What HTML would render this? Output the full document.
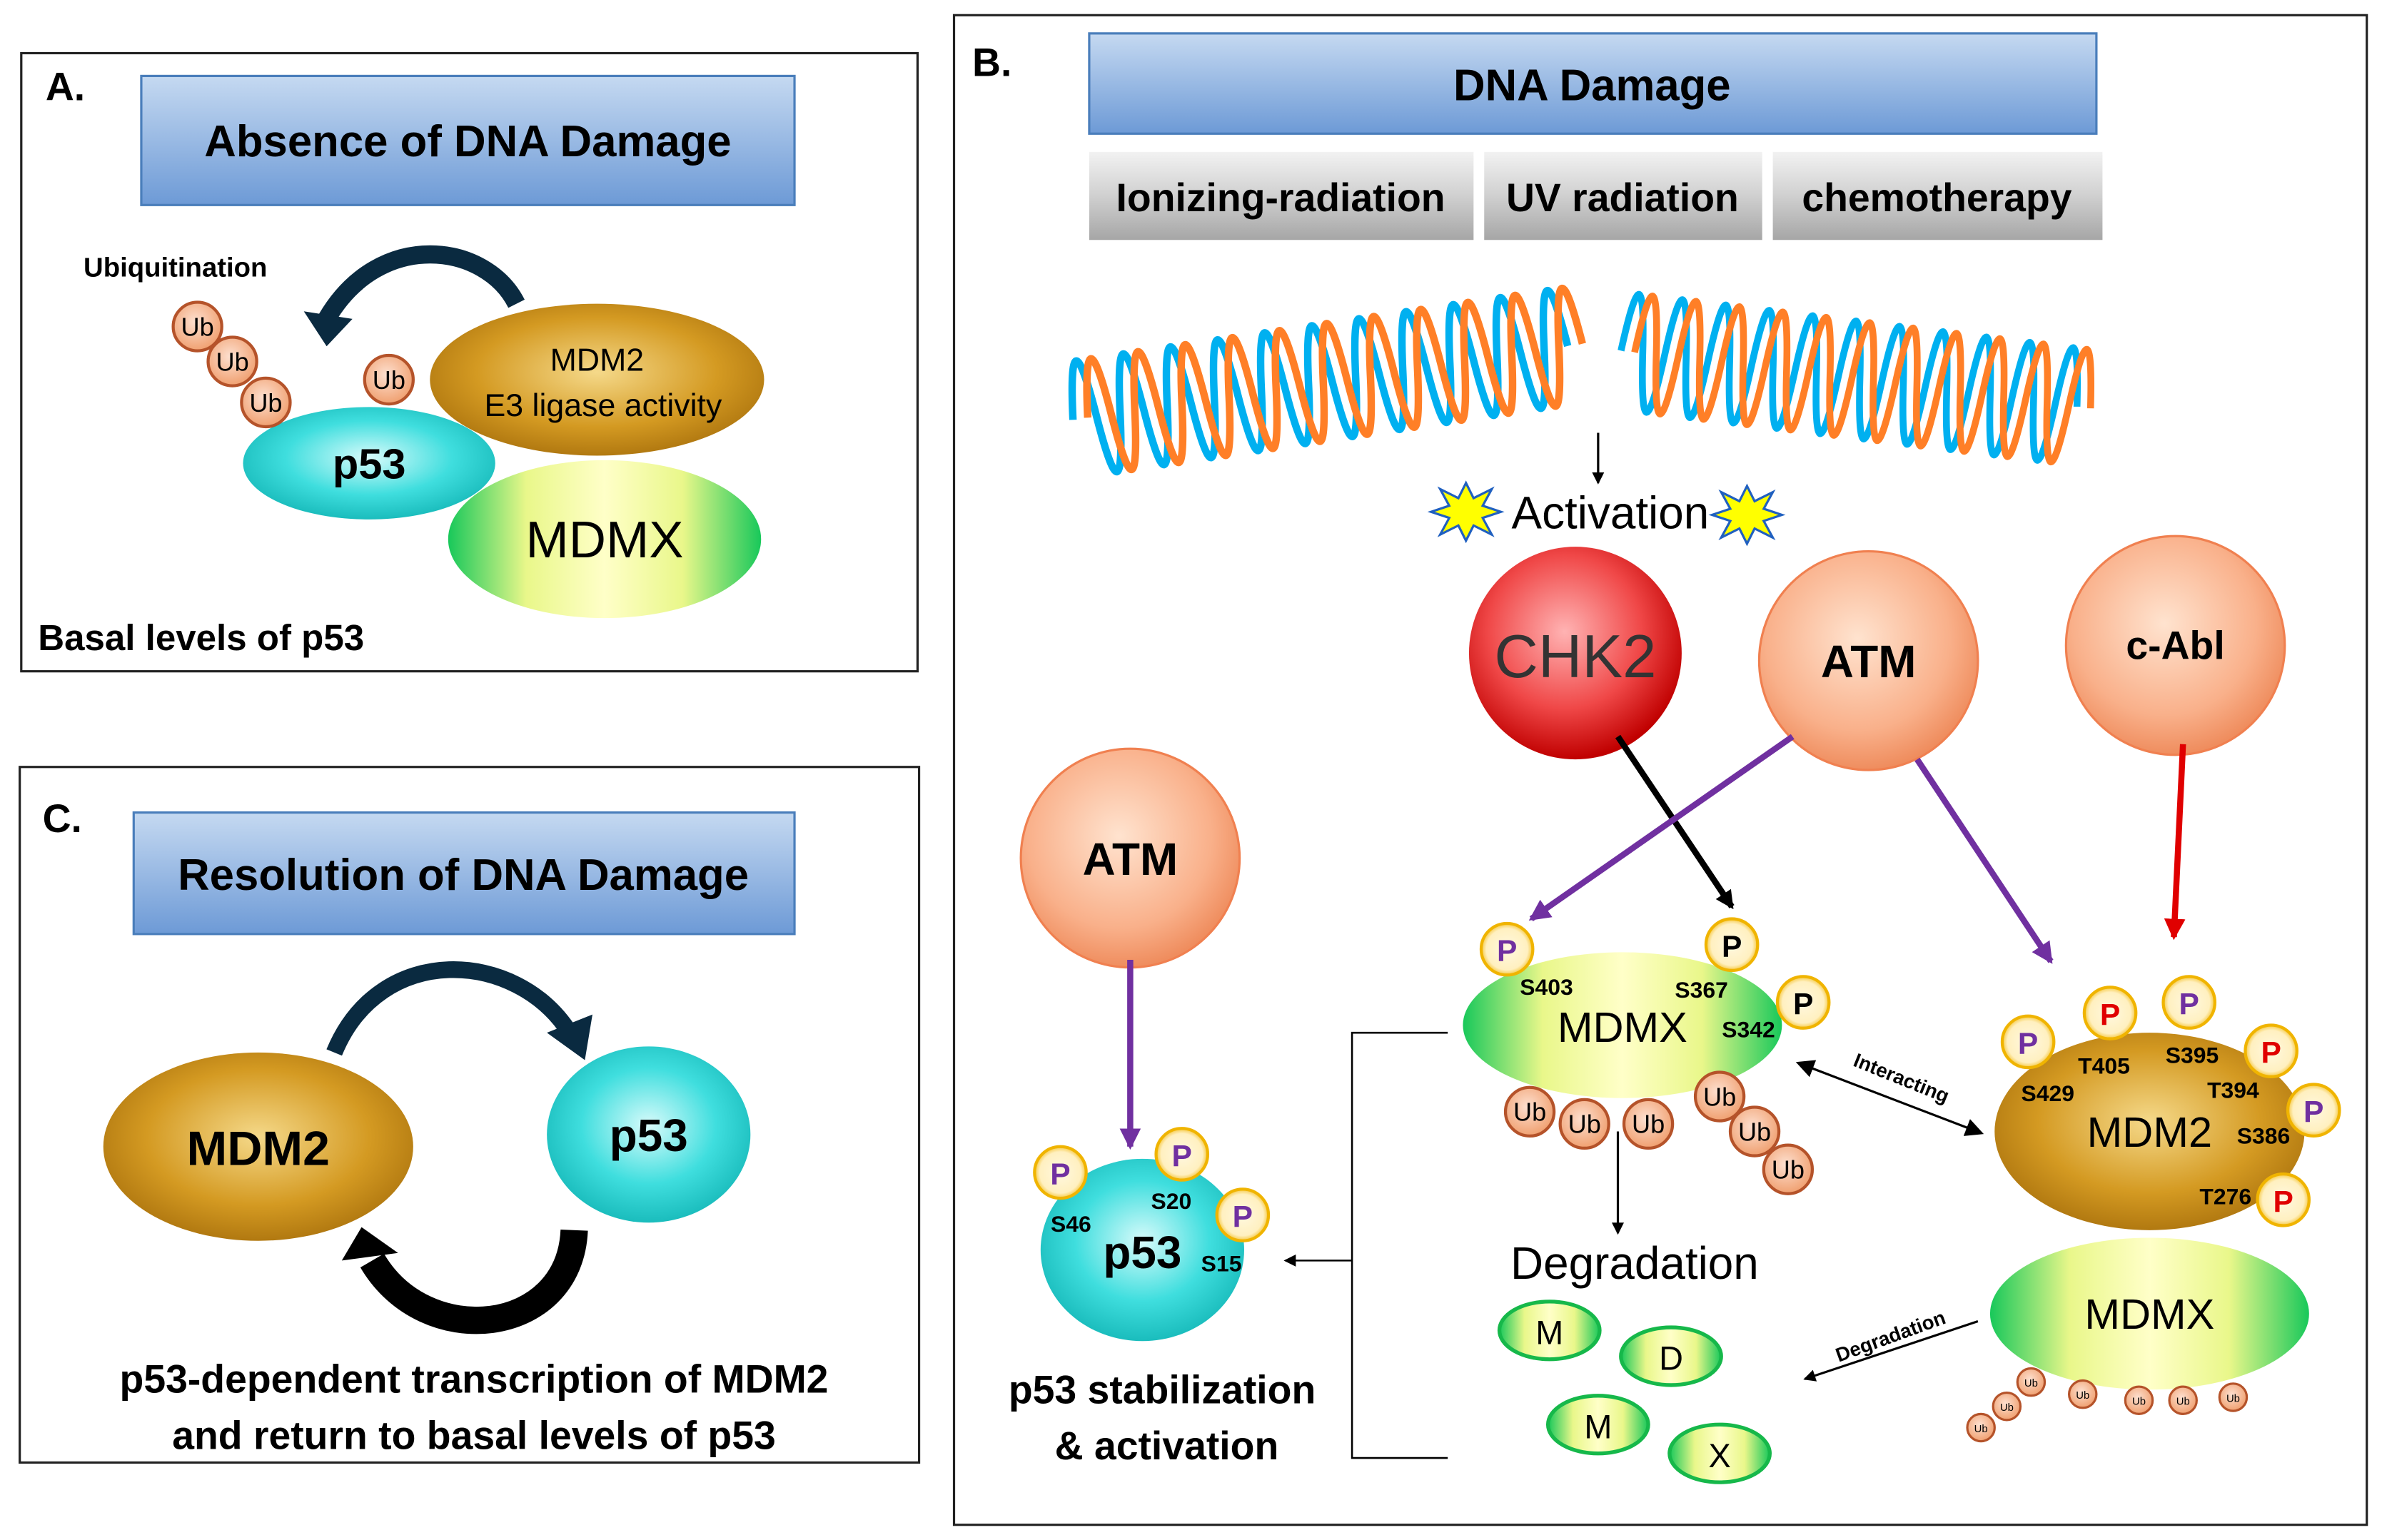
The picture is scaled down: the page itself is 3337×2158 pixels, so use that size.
<!DOCTYPE html>
<html><head><meta charset="utf-8"><style>
html,body{margin:0;padding:0;background:#fff}
svg{display:block}
text{font-family:"Liberation Sans",sans-serif}
</style></head><body>
<svg width="3337" height="2158" viewBox="0 0 1568 1014" xmlns="http://www.w3.org/2000/svg">
<defs>
<linearGradient id="blue" x1="0" y1="0" x2="0" y2="1"><stop offset="0" stop-color="#c5d9f1"/><stop offset="1" stop-color="#6d9ad6"/></linearGradient>
<linearGradient id="gray" x1="0" y1="0" x2="0" y2="1"><stop offset="0" stop-color="#f2f2f2"/><stop offset="0.5" stop-color="#d0d0d0"/><stop offset="1" stop-color="#a6a6a6"/></linearGradient>
<radialGradient id="gold" cx="0.5" cy="0.45" r="0.6"><stop offset="0" stop-color="#f5d98a"/><stop offset="0.6" stop-color="#d49a22"/><stop offset="1" stop-color="#a8700c"/></radialGradient>
<radialGradient id="cyan" cx="0.5" cy="0.45" r="0.6"><stop offset="0" stop-color="#d8fbfb"/><stop offset="0.55" stop-color="#3fdede"/><stop offset="1" stop-color="#12b5b5"/></radialGradient>
<linearGradient id="green" x1="0" y1="0" x2="1" y2="0"><stop offset="0" stop-color="#18c85a"/><stop offset="0.25" stop-color="#e9f78a"/><stop offset="0.5" stop-color="#ffffc8"/><stop offset="0.75" stop-color="#e9f78a"/><stop offset="1" stop-color="#18c85a"/></linearGradient>
<radialGradient id="salmon" cx="0.45" cy="0.4" r="0.6"><stop offset="0" stop-color="#ffe3cf"/><stop offset="0.7" stop-color="#f9b08a"/><stop offset="1" stop-color="#ef8d5e"/></radialGradient>
<radialGradient id="red" cx="0.45" cy="0.4" r="0.6"><stop offset="0" stop-color="#ffb3b3"/><stop offset="0.6" stop-color="#f04848"/><stop offset="1" stop-color="#c00000"/></radialGradient>
<radialGradient id="ub" cx="0.45" cy="0.4" r="0.6"><stop offset="0" stop-color="#fde0d0"/><stop offset="1" stop-color="#f0a070"/></radialGradient>
<radialGradient id="pp" cx="0.5" cy="0.5" r="0.5"><stop offset="0" stop-color="#fff8e0"/><stop offset="0.8" stop-color="#fff0c0"/><stop offset="1" stop-color="#f5c842"/></radialGradient>
<marker id="ak" markerWidth="8" markerHeight="8" refX="7" refY="4" orient="auto" markerUnits="userSpaceOnUse"><path d="M0,0 L8,4 L0,8z" fill="#000"/></marker>
<marker id="ak2" markerWidth="12" markerHeight="12" refX="10" refY="6" orient="auto" markerUnits="userSpaceOnUse"><path d="M0,0 L12,6 L0,12z" fill="#000"/></marker>
<marker id="akS" markerWidth="12" markerHeight="12" refX="2" refY="6" orient="auto" markerUnits="userSpaceOnUse"><path d="M12,0 L0,6 L12,12z" fill="#000"/></marker>
<marker id="ap" markerWidth="14" markerHeight="14" refX="12" refY="7" orient="auto" markerUnits="userSpaceOnUse"><path d="M0,0 L14,7 L0,14z" fill="#7030a0"/></marker>
<marker id="ar" markerWidth="14" markerHeight="14" refX="12" refY="7" orient="auto" markerUnits="userSpaceOnUse"><path d="M0,0 L14,7 L0,14z" fill="#e00000"/></marker>
<g id="ubc"><circle r="16" fill="url(#ub)" stroke="#b5532a" stroke-width="2"/><text y="6" text-anchor="middle" font-size="17">Ub</text></g>
<g id="ubs"><circle r="9" fill="url(#ub)" stroke="#b5532a" stroke-width="1.5"/><text y="3" text-anchor="middle" font-size="7">Ub</text></g>
<circle id="pc" r="17" fill="url(#pp)" stroke="#f0b400" stroke-width="2"/>
<path id="w1" d="M0,0 q8,-76 16,0 t16,0 t16,0 t16,0 t16,0 t16,0 t16,0 t16,0 t16,0 t16,0 t16,0 t16,0 t16,0 t16,0 t16,0 t16,0 t16,0 t16,0 t16,0 t16,0 t16,0" fill="none" stroke-width="5"/>
</defs>

<!-- Panel A -->
<rect x="14" y="35" width="590" height="407" fill="none" stroke="#222" stroke-width="1.5"/>
<text x="30" y="66" font-size="26" font-weight="bold">A.</text>
<rect x="93" y="50" width="430" height="85" fill="url(#blue)" stroke="#4a7ebb" stroke-width="1.5"/>
<text x="308" y="103" font-size="29" font-weight="bold" text-anchor="middle">Absence of DNA Damage</text>
<text x="55" y="182" font-size="18" font-weight="bold">Ubiquitination</text>
<path d="M340,200 C320,160 250,150 215,210" fill="none" stroke="#0a2a40" stroke-width="12"/>
<path d="M200,205 L215,228 L232,210z" fill="#0a2a40"/>
<ellipse cx="393" cy="250" rx="110" ry="50" fill="url(#gold)"/>
<text x="393" y="244" font-size="21" text-anchor="middle">MDM2</text>
<text x="397" y="274" font-size="21" text-anchor="middle">E3 ligase activity</text>
<ellipse cx="398" cy="355" rx="103" ry="52" fill="url(#green)"/>
<text x="398" y="367" font-size="34" text-anchor="middle">MDMX</text>
<ellipse cx="243" cy="305" rx="83" ry="37" fill="url(#cyan)"/>
<text x="243" y="315" font-size="28" font-weight="bold" text-anchor="middle">p53</text>
<use href="#ubc" x="130" y="215"/><use href="#ubc" x="153" y="238"/><use href="#ubc" x="175" y="265"/><use href="#ubc" x="256" y="250"/>
<text x="25" y="428" font-size="24" font-weight="bold">Basal levels of p53</text>

<!-- Panel C -->
<rect x="13" y="505" width="592" height="458" fill="none" stroke="#222" stroke-width="1.5"/>
<text x="28" y="548" font-size="26" font-weight="bold">C.</text>
<rect x="88" y="535" width="435" height="80" fill="url(#blue)" stroke="#4a7ebb" stroke-width="1.5"/>
<text x="305" y="586" font-size="29" font-weight="bold" text-anchor="middle">Resolution of DNA Damage</text>
<ellipse cx="170" cy="755" rx="102" ry="62" fill="url(#gold)"/>
<text x="170" y="767" font-size="32" font-weight="bold" text-anchor="middle">MDM2</text>
<ellipse cx="427" cy="747" rx="67" ry="58" fill="url(#cyan)"/>
<text x="427" y="758" font-size="30" font-weight="bold" text-anchor="middle">p53</text>
<path d="M220,693 C250,620 340,625 375,680" fill="none" stroke="#0a2a40" stroke-width="11"/>
<path d="M360,680 L385,698 L390,668z" fill="#0a2a40"/>
<path d="M378,810 C375,880 280,890 245,830" fill="none" stroke="#000" stroke-width="18"/>
<path d="M225,830 L238,808 L262,825z" fill="#000"/>
<text x="312" y="917" font-size="26" font-weight="bold" text-anchor="middle">p53-dependent transcription of MDM2</text>
<text x="312" y="954" font-size="26" font-weight="bold" text-anchor="middle">and return to basal levels of p53</text>

<!-- Panel B -->
<rect x="628" y="10" width="930" height="994" fill="none" stroke="#222" stroke-width="1.5"/>
<text x="640" y="50" font-size="26" font-weight="bold">B.</text>
<rect x="717" y="22" width="663" height="66" fill="url(#blue)" stroke="#4a7ebb" stroke-width="1.5"/>
<text x="1048" y="66" font-size="29" font-weight="bold" text-anchor="middle">DNA Damage</text>
<rect x="717" y="100" width="253" height="58" fill="url(#gray)"/>
<text x="843" y="139" font-size="26" font-weight="bold" text-anchor="middle">Ionizing-radiation</text>
<rect x="977" y="100" width="183" height="58" fill="url(#gray)"/>
<text x="1068" y="139" font-size="26" font-weight="bold" text-anchor="middle">UV radiation</text>
<rect x="1167" y="100" width="217" height="58" fill="url(#gray)"/>
<text x="1275" y="139" font-size="26" font-weight="bold" text-anchor="middle">chemotherapy</text>

<!-- DNA -->
<g transform="translate(716,275) rotate(-8.5) scale(0.98,1)">
<use href="#w1" stroke="#00b0f0" x="-10"/>
<use href="#w1" stroke="#ff7f27"/>
</g>
<g transform="translate(1076,232) rotate(7) scale(0.9,1)">
<use href="#w1" stroke="#00b0f0" x="-10"/>
<use href="#w1" stroke="#ff7f27"/>
</g>
<line x1="1052" y1="285" x2="1052" y2="318" stroke="#000" stroke-width="1.5" marker-end="url(#ak)"/>
<text x="1060" y="348" font-size="30" text-anchor="middle">Activation</text>
<polygon points="965,318 970,328 982,322 976,333 988,337 976,341 982,352 970,346 965,356 960,346 948,352 954,341 942,337 954,333 948,322 960,328" fill="#ffff00" stroke="#2060c0" stroke-width="1.5"/>
<polygon points="1150,320 1155,330 1167,324 1161,335 1173,339 1161,343 1167,354 1155,348 1150,358 1145,348 1133,354 1139,343 1127,339 1139,335 1133,324 1145,330" fill="#ffff00" stroke="#2060c0" stroke-width="1.5"/>

<circle cx="1037" cy="430" r="70" fill="url(#red)"/>
<text x="1037" y="446" font-size="40" text-anchor="middle" fill="#333">CHK2</text>
<circle cx="1230" cy="435" r="72" fill="url(#salmon)" stroke="#f08050" stroke-width="1.5"/>
<text x="1230" y="446" font-size="30" font-weight="bold" text-anchor="middle">ATM</text>
<circle cx="1432" cy="425" r="72" fill="url(#salmon)" stroke="#f08050" stroke-width="1.5"/>
<text x="1432" y="434" font-size="26" font-weight="bold" text-anchor="middle">c-Abl</text>
<circle cx="744" cy="565" r="72" fill="url(#salmon)" stroke="#f08050" stroke-width="1.5"/>
<text x="744" y="576" font-size="30" font-weight="bold" text-anchor="middle">ATM</text>

<line x1="1065" y1="485" x2="1140" y2="597" stroke="#000" stroke-width="4" marker-end="url(#ak2)"/>
<line x1="1180" y1="485" x2="1008" y2="605" stroke="#7030a0" stroke-width="4" marker-end="url(#ap)"/>
<line x1="1262" y1="500" x2="1350" y2="633" stroke="#7030a0" stroke-width="4" marker-end="url(#ap)"/>
<line x1="1437" y1="490" x2="1431" y2="617" stroke="#e00000" stroke-width="4" marker-end="url(#ar)"/>
<line x1="744" y1="632" x2="744" y2="755" stroke="#7030a0" stroke-width="4" marker-end="url(#ap)"/>

<!-- MDMX top -->
<ellipse cx="1068" cy="675" rx="105" ry="48" fill="url(#green)"/>
<text x="1068" y="686" font-size="28" text-anchor="middle">MDMX</text>
<use href="#pc" x="992" y="625"/><text x="992" y="633" font-size="20" font-weight="bold" fill="#7030a0" text-anchor="middle">P</text>
<use href="#pc" x="1140" y="622"/><text x="1140" y="630" font-size="20" font-weight="bold" text-anchor="middle">P</text>
<use href="#pc" x="1187" y="660"/><text x="1187" y="668" font-size="20" font-weight="bold" text-anchor="middle">P</text>
<text x="1018" y="655" font-size="15" font-weight="bold" text-anchor="middle">S403</text>
<text x="1120" y="657" font-size="15" font-weight="bold" text-anchor="middle">S367</text>
<text x="1151" y="683" font-size="15" font-weight="bold" text-anchor="middle">S342</text>
<use href="#ubc" x="1007" y="732"/><use href="#ubc" x="1043" y="740"/><use href="#ubc" x="1085" y="740"/><use href="#ubc" x="1132" y="722"/><use href="#ubc" x="1155" y="745"/><use href="#ubc" x="1177" y="770"/>
<line x1="1065" y1="745" x2="1065" y2="812" stroke="#000" stroke-width="1.5" marker-end="url(#ak)"/>
<text x="1076" y="842" font-size="30" text-anchor="middle">Degradation</text>

<!-- interacting -->
<line x1="1184" y1="700" x2="1304" y2="746" stroke="#000" stroke-width="1.5" marker-start="url(#akS)" marker-end="url(#ak2)"/>
<text x="1250" y="714" font-size="13" font-weight="bold" text-anchor="middle" transform="rotate(22 1250 714)">Interacting</text>

<!-- MDM2 right -->
<ellipse cx="1415" cy="745" rx="102" ry="65" fill="url(#gold)"/>
<text x="1415" y="755" font-size="28" text-anchor="middle">MDM2</text>
<use href="#pc" x="1335" y="686"/><text x="1335" y="694" font-size="20" font-weight="bold" fill="#7030a0" text-anchor="middle">P</text>
<use href="#pc" x="1389" y="667"/><text x="1389" y="675" font-size="20" font-weight="bold" fill="#e00000" text-anchor="middle">P</text>
<use href="#pc" x="1441" y="660"/><text x="1441" y="668" font-size="20" font-weight="bold" fill="#7030a0" text-anchor="middle">P</text>
<use href="#pc" x="1495" y="692"/><text x="1495" y="700" font-size="20" font-weight="bold" fill="#e00000" text-anchor="middle">P</text>
<use href="#pc" x="1523" y="731"/><text x="1523" y="739" font-size="20" font-weight="bold" fill="#7030a0" text-anchor="middle">P</text>
<use href="#pc" x="1503" y="790"/><text x="1503" y="798" font-size="20" font-weight="bold" fill="#e00000" text-anchor="middle">P</text>
<text x="1385" y="707" font-size="15" font-weight="bold" text-anchor="middle">T405</text>
<text x="1443" y="700" font-size="15" font-weight="bold" text-anchor="middle">S395</text>
<text x="1348" y="725" font-size="15" font-weight="bold" text-anchor="middle">S429</text>
<text x="1470" y="723" font-size="15" font-weight="bold" text-anchor="middle">T394</text>
<text x="1490" y="753" font-size="15" font-weight="bold" text-anchor="middle">S386</text>
<text x="1465" y="793" font-size="15" font-weight="bold" text-anchor="middle">T276</text>

<!-- MDMX right -->
<ellipse cx="1415" cy="865" rx="105" ry="50" fill="url(#green)"/>
<text x="1415" y="875" font-size="28" text-anchor="middle">MDMX</text>
<use href="#ubs" x="1304" y="940"/><use href="#ubs" x="1321" y="926"/><use href="#ubs" x="1337" y="910"/><use href="#ubs" x="1371" y="918"/><use href="#ubs" x="1408" y="922"/><use href="#ubs" x="1437" y="922"/><use href="#ubs" x="1470" y="920"/>
<line x1="1302" y1="870" x2="1188" y2="908" stroke="#000" stroke-width="1.5" marker-end="url(#ak)"/>
<text x="1246" y="884" font-size="13" font-weight="bold" text-anchor="middle" transform="rotate(-20 1246 884)">Degradation</text>

<!-- fragments -->
<g stroke="#16b84a" stroke-width="2.5" fill="url(#green)">
<ellipse cx="1020" cy="876" rx="33" ry="19"/><ellipse cx="1100" cy="893" rx="33" ry="19"/><ellipse cx="1052" cy="938" rx="33" ry="19"/><ellipse cx="1132" cy="957" rx="33" ry="19"/>
</g>
<text x="1020" y="885" font-size="22" text-anchor="middle">M</text>
<text x="1100" y="902" font-size="22" text-anchor="middle">D</text>
<text x="1052" y="947" font-size="22" text-anchor="middle">M</text>
<text x="1132" y="966" font-size="22" text-anchor="middle">X</text>

<!-- bracket -->
<path d="M953,680 L890,680 L890,960 L953,960" fill="none" stroke="#000" stroke-width="1.2"/>
<line x1="890" y1="830" x2="846" y2="830" stroke="#000" stroke-width="1.2" marker-end="url(#ak)"/>

<!-- p53 -->
<ellipse cx="752" cy="823" rx="67" ry="60" fill="url(#cyan)"/>
<text x="752" y="835" font-size="30" font-weight="bold" text-anchor="middle">p53</text>
<use href="#pc" x="698" y="772"/><text x="698" y="780" font-size="20" font-weight="bold" fill="#7030a0" text-anchor="middle">P</text>
<use href="#pc" x="778" y="760"/><text x="778" y="768" font-size="20" font-weight="bold" fill="#7030a0" text-anchor="middle">P</text>
<use href="#pc" x="818" y="800"/><text x="818" y="808" font-size="20" font-weight="bold" fill="#7030a0" text-anchor="middle">P</text>
<text x="705" y="811" font-size="15" font-weight="bold" text-anchor="middle">S46</text>
<text x="771" y="796" font-size="15" font-weight="bold" text-anchor="middle">S20</text>
<text x="804" y="837" font-size="15" font-weight="bold" text-anchor="middle">S15</text>
<text x="765" y="924" font-size="26" font-weight="bold" text-anchor="middle">p53 stabilization</text>
<text x="768" y="961" font-size="26" font-weight="bold" text-anchor="middle">&amp; activation</text>
</svg>
</body></html>
